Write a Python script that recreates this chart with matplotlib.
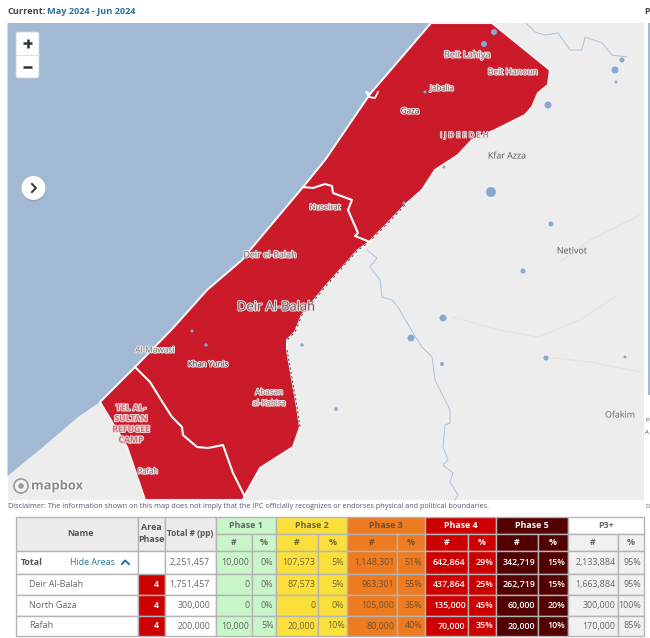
import matplotlib
matplotlib.use("Agg")
import matplotlib.pyplot as plt
import matplotlib.patheffects as pe
from matplotlib.patches import Polygon, Rectangle, FancyBboxPatch, Circle

plt.rcParams['font.family'] = ['Open Sans', 'DejaVu Sans']

# Table values
AREA_NAMES = ['Total', 'Deir Al-Balah', 'North Gaza', 'Rafah']
AREA_PHASE = ['', '4', '4', '4']
TOTAL_PP = ['2,251,457', '1,751,457', '300,000', '200,000']
PHASE1_N = ['10,000', '0', '0', '10,000']
PHASE1_P = ['0%', '0%', '0%', '5%']
PHASE2_N = ['107,573', '87,573', '0', '20,000']
PHASE2_P = ['5%', '5%', '0%', '10%']
PHASE3_N = ['1,148,301', '963,301', '105,000', '80,000']
PHASE3_P = ['51%', '55%', '35%', '40%']
PHASE4_N = ['642,864', '437,864', '135,000', '70,000']
PHASE4_P = ['29%', '25%', '45%', '35%']
PHASE5_N = ['342,719', '262,719', '60,000', '20,000']
PHASE5_P = ['15%', '15%', '20%', '10%']
P3PLUS_N = ['2,133,884', '1,663,884', '300,000', '170,000']
P3PLUS_P = ['95%', '95%', '100%', '85%']

# Map outlines, traced in image pixels
COAST = [(431, 23), (370, 94), (325, 160), (303, 187), (250, 250), (242, 260), (207, 290),
         (173, 328), (135, 367), (100, 402), (78, 417), (43, 447), (7.5, 476)]
STRIP_EAST = [(431, 23), (492, 23), (550, 70), (548, 85), (538, 93), (532, 107), (525, 115),
              (495, 130), (472, 140), (458, 155), (435, 170), (422, 190), (405, 205),
              (388, 223), (368, 243), (358, 250), (325, 287), (302, 315), (295, 332),
              (287, 340), (287, 350), (297, 407), (300, 427), (293, 447), (260, 468),
              (245, 495), (243, 500), (145, 500), (127, 447), (100, 402), (135, 367),
              (173, 328), (207, 290), (242, 260), (250, 250), (303, 187), (325, 160), (370, 94)]
RAFAH_LINE = [(135, 367), (150, 382), (163, 403), (172, 417), (182, 427), (183, 435),
              (197, 447), (208, 448), (223, 445), (233, 473), (244, 495)]
NUSEIRAT_LINE = [(303, 187), (313, 188), (325, 184), (332, 186), (333, 193), (352, 200),
                 (348, 210), (358, 233), (355, 236), (370, 242)]
RIVER_MAIN = [(367, 250), (377, 258), (370, 267), (380, 280), (382, 297), (392, 300), (398, 307),
              (413, 333), (422, 347), (432, 357), (435, 380), (450, 410), (450, 423), (445, 425),
              (443, 447), (448, 460), (443, 465), (453, 473), (450, 482), (458, 495), (455, 500)]
RIVER_NORTH = [(526, 23), (535, 32), (545, 35), (558, 33), (570, 50), (582, 50), (585, 37),
               (602, 43), (612, 55), (627, 57)]
TERRAIN_LINES = [[(452, 317), (500, 330), (538, 337), (580, 320), (615, 297)],
                 [(545, 357), (590, 362), (640, 372)],
                 [(560, 262), (590, 240), (640, 215)]]
PONDS = [(494, 32, 3), (484, 44, 3), (622, 60, 2.5), (615, 70, 3.5), (616, 82, 1.5), (548, 105, 3.5),
         (491, 192, 5), (551, 224, 2.5), (444, 167, 1.5), (404, 203, 1.5), (523, 271, 2.5),
         (443, 318, 3.5), (411, 338, 3.5), (442, 364, 2), (546, 358, 2.5), (625, 357, 1.5),
         (336, 409, 1.8), (192, 331, 1.5), (206, 345, 1.7), (302, 345, 1.7), (425, 92, 1.5)]

# name, x, y, size, colour, halo
RED_HALO = '#ecd9db'
PLACE_LABELS = [
    ('Beit Lahiya', 467, 55, 6.6, '#8a7276', RED_HALO),
    ('Beit Hanoun', 513, 72, 6.2, '#8a6a70', RED_HALO),
    ('Jabalia', 442, 89, 5.6, '#6a5a5e', RED_HALO),
    ('Gaza', 410, 112, 5.8, '#444444', RED_HALO),
    ('Kfar Azza', 507, 156, 6.4, '#555555', '#ececec'),
    ('Nuseirat', 325, 208, 5.6, '#6a5a5e', RED_HALO),
    ('Deir el-Balah', 270, 255, 6.4, '#7a6a6e', RED_HALO),
    ('Deir Al-Balah', 276, 307, 9.3, '#665a5e', RED_HALO),
    ('Al-Mawasi', 155, 351, 6.0, '#777777', '#e4e4e4'),
    ('Khan Yunis', 208, 365, 5.6, '#333333', RED_HALO),
    ('Abasan', 269, 393, 5.8, '#8a7276', RED_HALO),
    ('al-Kabira', 269, 404, 5.8, '#8a7276', RED_HALO),
    ('Rafah', 148, 472, 5.4, '#7a6a6e', RED_HALO),
    ('Netivot', 572, 251, 6.4, '#555555', '#ececec'),
    ('Ofakim', 620, 415, 6.4, '#666666', '#ececec'),
]
CAMP_LINES = ['TEL AL-', 'SULTAN', 'REFUGEE', 'CAMP']

# Table layout
ROW_Y = [551, 574, 595, 616, 636]
COL_X = [215.5, 252, 276, 318, 347, 397, 425, 468, 496, 538, 568, 618, 644]
BAND_FILL = ['#c9f6c9', '#fbe03c', '#ee7b1f', '#cc0000', '#520000', '#f1f1f1']
BAND_HEAD = ['#c9f6c9', '#fbe03c', '#ee7b1f', '#cc0000', '#520000', '#ffffff']
BAND_SUB = ['#c9f6c9', '#fbe03c', '#ee7b1f', '#cc0000', '#520000', '#f1f1f1']
BAND_TEXT = ['#666666', '#6e6440', '#6e5030', '#ffffff', '#ffffff', '#666666']
BAND_NAMES = ['Phase 1', 'Phase 2', 'Phase 3', 'Phase 4', 'Phase 5', 'P3+']
BAND_COLS = [PHASE1_N, PHASE1_P, PHASE2_N, PHASE2_P, PHASE3_N, PHASE3_P,
             PHASE4_N, PHASE4_P, PHASE5_N, PHASE5_P, P3PLUS_N, P3PLUS_P]
GRID = '#b4b4b4'
TXT = '#666666'

fig = plt.figure(figsize=(6.5, 6.38), dpi=100)
ax = fig.add_axes([0, 0, 1, 1])
ax.set_xlim(0, 650)
ax.set_ylim(638, 0)
ax.axis('off')

# --- header text ---
ax.text(8, 11.5, 'Current:', fontsize=6.6, fontweight='bold', color='#444444', va='center')
ax.text(47, 11.5, 'May 2024 - Jun 2024', fontsize=6.6, fontweight='bold', color='#2a7199', va='center')
ax.text(644, 11.5, 'P', fontsize=6.3, fontweight='bold', color='#444444', va='center')

# --- map ---
map_box = Rectangle((7.5, 23), 636.5, 477, fc='#ededed', ec='none', zorder=1)
ax.add_patch(map_box)
sea = COAST + [(7.5, 23)]
ax.add_patch(Polygon(sea, closed=True, fc='#a1b9d2', ec='none', zorder=2))
ax.add_patch(Rectangle((647.5, 23), 3, 372, fc='#a1b9d2', ec='none', zorder=2))

for line in TERRAIN_LINES:
    ax.plot(*zip(*line), color='#e3e3e3', lw=0.8, zorder=2)
for river in (RIVER_MAIN, RIVER_NORTH):
    ax.plot(*zip(*river), color='#a9c4de', lw=0.7, zorder=3)
for px, py, r in PONDS:
    ax.add_patch(Circle((px, py), r, fc='#86a9d0', ec='none', zorder=5))

ax.add_patch(Polygon(STRIP_EAST, closed=True, fc='#cb1a2a', ec='#f4f4f4', lw=1.5, zorder=4,
                     clip_path=map_box))
ax.plot(*zip(*STRIP_EAST[12:20]), color='#555555', lw=0.8, ls=(0, (2, 3)), zorder=5)
ax.plot(*zip(*STRIP_EAST[20:23]), color='#555555', lw=0.8, ls=(0, (2, 2)), zorder=5)
ax.plot(*zip(*RAFAH_LINE), color='white', lw=1.5, zorder=5)
ax.plot(*zip(*NUSEIRAT_LINE), color='white', lw=1.5, zorder=5)
ax.plot([370, 366, 369, 375, 378], [94, 92, 97, 98, 92], color='white', lw=1.3, zorder=5)

for name, x, y, size, col, halo in PLACE_LABELS:
    ax.text(x, y, name, fontsize=size, color=col, ha='center', va='center', zorder=7,
            path_effects=[pe.withStroke(linewidth=1.5, foreground=halo)])
ax.text(464, 136, 'I J D E E D E H', fontsize=5.6, color='#8a6a70', ha='center', va='center', zorder=7,
        path_effects=[pe.withStroke(linewidth=1.3, foreground=RED_HALO)])
for i, line in enumerate(CAMP_LINES):
    ax.text(131, 408 + i * 10.7, line, fontsize=6.2, fontweight='bold', color='#c9717a', ha='center',
            va='center', zorder=7, path_effects=[pe.withStroke(linewidth=1.5, foreground=RED_HALO)])

# zoom buttons
ax.add_patch(FancyBboxPatch((16, 32), 23, 46, boxstyle='round,pad=0,rounding_size=2', fc='white',
                            ec='#c8d2de', lw=0.6, zorder=8))
ax.plot([16, 39], [55, 55], color='#dddddd', lw=0.7, zorder=9)
ax.plot([23, 32], [43, 43], color='#333333', lw=1.8, zorder=9, solid_capstyle='butt')
ax.plot([27.5, 27.5], [38.5, 47.5], color='#333333', lw=1.8, zorder=9, solid_capstyle='butt')
ax.plot([23, 32], [67, 67], color='#333333', lw=1.8, zorder=9, solid_capstyle='butt')

# sidebar toggle
ax.add_patch(Circle((34, 189.5), 12, fc='#8296ad', ec='none', alpha=0.5, zorder=8))
ax.add_patch(Circle((33.5, 188), 12, fc='white', ec='none', zorder=9))
ax.plot([32, 36, 32], [184, 188, 192], color='#333333', lw=1.4, zorder=10)

# mapbox logo
ax.add_patch(Circle((21, 486), 7, fc='#f4f4f4', ec='#999999', lw=1.2, zorder=8))
ax.add_patch(Circle((21, 486), 2.8, fc='#999999', ec='none', zorder=9))
ax.text(31, 486, 'mapbox', fontsize=9.3, fontweight='bold', color='#8c8c8c', va='center', zorder=8,
        path_effects=[pe.withStroke(linewidth=1.6, foreground='white')])

# disclaimer
ax.text(8, 507, 'Disclaimer: The information shown on this map does not imply that the IPC officially '
        'recognizes or endorses physical and political boundaries.', fontsize=5.2, color='#555577', va='center')
ax.text(645, 507, 'D', fontsize=4.4, color='#555577', va='center')
ax.text(645, 420, 'P', fontsize=4.4, color='#555555', va='center')
ax.text(645, 433, 'A', fontsize=4.4, color='#555555', va='center')

# --- table ---
def cell(x0, x1, y0, y1, fc):
    ax.add_patch(Rectangle((x0, y0), x1 - x0, y1 - y0, fc=fc, ec=GRID, lw=1.0, zorder=2))

def bold(x, y, s, col=TXT, size=6.4, ha='center'):
    ax.text(x, y, s, fontsize=size, fontweight='bold', color=col, ha=ha, va='center', zorder=4)

cell(15.5, 138, 517, 551, '#ececec')
cell(138, 165, 517, 551, '#ececec')
cell(165, 215.5, 517, 551, '#ececec')
bold(81, 533.5, 'Name', '#555555')
bold(151.5, 528, 'Area', '#555555')
bold(151.5, 539, 'Phase', '#555555')
bold(190, 533.5, 'Total # (pp)', '#555555', size=6.0)

for b, (name, head, sub, tcol) in enumerate(zip(BAND_NAMES, BAND_HEAD, BAND_SUB, BAND_TEXT)):
    x0, xm, x1 = COL_X[2 * b], COL_X[2 * b + 1], COL_X[2 * b + 2]
    cell(x0, x1, 517, 534, head)
    cell(x0, xm, 534, 551, sub)
    cell(xm, x1, 534, 551, sub)
    bold((x0 + x1) / 2, 525.5, name, tcol)
    bold((x0 + xm) / 2, 542.5, '#', tcol)
    bold((xm + x1) / 2, 542.5, '%', tcol)

for r, name in enumerate(AREA_NAMES):
    y0, y1 = ROW_Y[r], ROW_Y[r + 1]
    ym = (y0 + y1) / 2
    cell(15.5, 138, y0, y1, 'white')
    cell(138, 165, y0, y1, '#cc0000' if AREA_PHASE[r] else 'white')
    cell(165, 215.5, y0, y1, 'white')
    if r == 0:
        bold(21, ym, name, '#555555', size=6.4, ha='left')
        ax.text(70, ym, 'Hide Areas', fontsize=6.4, color='#2a7199', va='center', zorder=4)
        ax.plot([122, 125, 129], [ym + 1.5, ym - 2, ym + 1.5], color='#2a7199', lw=1.4, zorder=4)
    else:
        ax.text(29, ym, name, fontsize=6.5, color=TXT, va='center', zorder=4)
    bold(156.5, ym, AREA_PHASE[r], 'white', size=6.4)
    ax.text(210, ym, TOTAL_PP[r], fontsize=6.4, color=TXT, ha='right', va='center', zorder=4)
    for c, col_vals in enumerate(BAND_COLS):
        band = c // 2
        x0, x1 = COL_X[c], COL_X[c + 1]
        cell(x0, x1, y0, y1, BAND_FILL[band])
        ax.text(x1 - 2.5, ym, col_vals[r], fontsize=6.4, color=BAND_TEXT[band], ha='right', va='center', zorder=4,
                fontweight='semibold' if band in (3, 4) else 'normal')

fig.savefig('out.png', dpi=100)
